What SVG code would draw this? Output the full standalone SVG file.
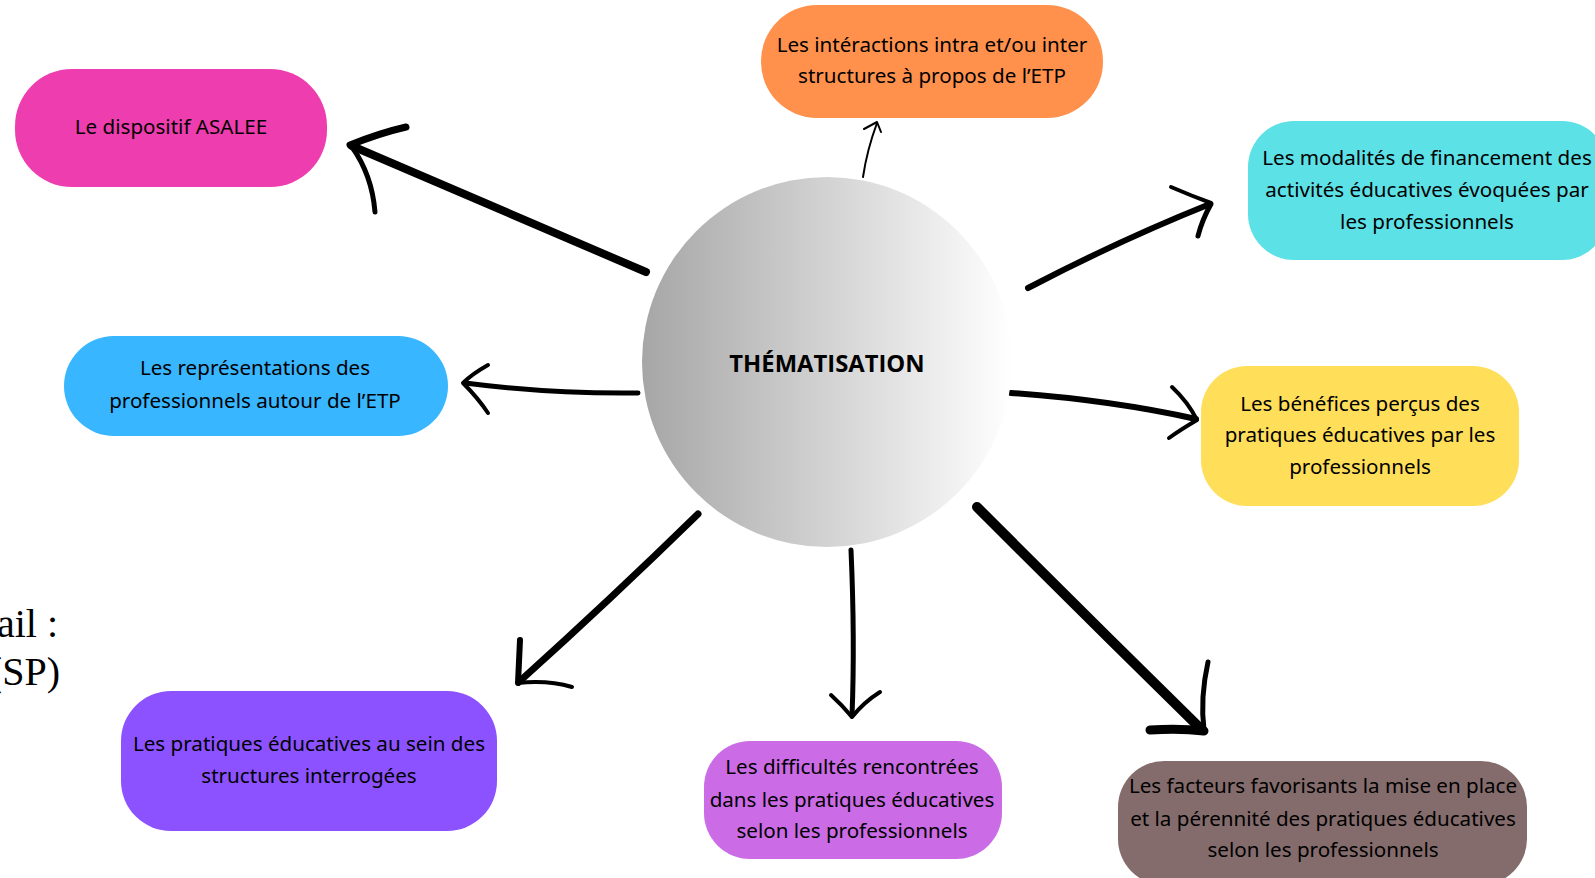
<svg xmlns="http://www.w3.org/2000/svg" width="1595" height="878" viewBox="0 0 1595 878">
<defs>
<linearGradient id="grey" x1="0" y1="0" x2="1" y2="0">
<stop offset="0" stop-color="#a6a6a6"/>
<stop offset="1" stop-color="#ffffff"/>
</linearGradient>
<style>
.lbl{font-family:"Noto Sans","Open Sans",sans-serif;font-size:20.6px;fill:#000;text-anchor:middle}
.title{font-family:"Open Sans","Noto Sans",sans-serif;font-size:23.8px;font-weight:bold;fill:#000;text-anchor:middle}
.side{font-family:"Liberation Serif",serif;font-size:40px;fill:#000;text-anchor:end}
.brush{fill:none;stroke:#000;stroke-linecap:round;stroke-linejoin:round}
</style>
</defs>
<rect width="1595" height="878" fill="#fff"/>

<text class="side" x="58" y="637">ail :</text>
<text class="side" x="60" y="685">(SP)</text>

<g id="connectors">
<g id="c-asalee">
<path class="brush" stroke-width="8" d="M646 272 Q500 210 352 146"/>
<path class="brush" stroke-width="7" d="M350 145 Q380 133 406 127"/>
<path class="brush" stroke-width="5" d="M352 147 Q372 175 375 212"/>
</g>
<g id="c-interactions">
<path class="brush" stroke-width="2" d="M863 177 Q867 150 877 123"/>
<path class="brush" stroke-width="2" d="M864 129 L877 122 L881 132"/>
</g>
<g id="c-financement">
<path class="brush" stroke-width="6" d="M1028 288 Q1120 240 1210 204"/>
<path class="brush" stroke-width="4" d="M1171 187 Q1192 196 1211 203"/>
<path class="brush" stroke-width="5" d="M1211 204 Q1202 220 1198 236"/>
</g>
<g id="c-representations">
<path class="brush" stroke-width="5" d="M638 393 Q550 394 465 383"/>
<path class="brush" stroke-width="4" d="M488 365 Q472 374 463 383 Q478 398 488 413"/>
</g>
<g id="c-benefices">
<path class="brush" stroke-width="6" d="M1011 393 Q1110 400 1196 419"/>
<path class="brush" stroke-width="4" d="M1172 387 Q1188 402 1197 420 Q1180 430 1169 438"/>
</g>
<g id="c-pratiques">
<path class="brush" stroke-width="7" d="M698 514 Q610 600 520 681"/>
<path class="brush" stroke-width="6" d="M520 640 Q519 662 518 683"/>
<path class="brush" stroke-width="4" d="M518 683 Q548 680 572 687"/>
</g>
<g id="c-difficultes">
<path class="brush" stroke-width="5" d="M851 550 Q855 640 852 716"/>
<path class="brush" stroke-width="4" d="M831 695 Q842 705 852 717 Q864 702 880 692"/>
</g>
<g id="c-facteurs">
<path class="brush" stroke-width="10" d="M977 507 Q1090 620 1202 730"/>
<path class="brush" stroke-width="5" d="M1208 662 Q1200 698 1204 730"/>
<path class="brush" stroke-width="9" d="M1150 730 Q1180 728 1204 731"/>
</g>
</g>

<g id="center">
<circle cx="827" cy="362" r="185" fill="url(#grey)"/>
<text class="title" x="827" y="372">THÉMATISATION</text>
</g>

<g id="n-asalee">
<rect x="15" y="69" width="312" height="118" rx="57" fill="#ee3dae"/>
<text class="lbl" x="171" y="134">Le dispositif ASALEE</text>
</g>

<g id="n-interactions">
<rect x="761" y="5" width="342" height="113" rx="56" fill="#ff914d"/>
<text class="lbl" x="932" y="52">Les intéractions intra et/ou inter</text>
<text class="lbl" x="932" y="83">structures à propos de l’ETP</text>
</g>

<g id="n-financement">
<rect x="1248" y="121" width="360" height="139" rx="46" fill="#5ce1e6"/>
<text class="lbl" x="1427" y="165">Les modalités de financement des</text>
<text class="lbl" x="1427" y="197">activités éducatives évoquées par</text>
<text class="lbl" x="1427" y="229">les professionnels</text>
</g>

<g id="n-representations">
<rect x="64" y="336" width="384" height="100" rx="50" fill="#38b6ff"/>
<text class="lbl" x="255" y="375">Les représentations des</text>
<text class="lbl" x="255" y="408">professionnels autour de l’ETP</text>
</g>

<g id="n-benefices">
<rect x="1201" y="366" width="318" height="140" rx="46" fill="#ffde59"/>
<text class="lbl" x="1360" y="411">Les bénéfices perçus des</text>
<text class="lbl" x="1360" y="442">pratiques éducatives par les</text>
<text class="lbl" x="1360" y="474">professionnels</text>
</g>

<g id="n-pratiques">
<rect x="121" y="691" width="376" height="140" rx="50" fill="#8c52ff"/>
<text class="lbl" x="309" y="751">Les pratiques éducatives au sein des</text>
<text class="lbl" x="309" y="783">structures interrogées</text>
</g>

<g id="n-difficultes">
<rect x="704" y="741" width="298" height="118" rx="46" fill="#cb6ce6"/>
<text class="lbl" x="852" y="774">Les difficultés rencontrées</text>
<text class="lbl" x="852" y="807">dans les pratiques éducatives</text>
<text class="lbl" x="852" y="838">selon les professionnels</text>
</g>

<g id="n-facteurs">
<rect x="1118" y="761" width="409" height="124" rx="46" fill="#846c6c"/>
<text class="lbl" x="1323" y="793">Les facteurs favorisants la mise en place</text>
<text class="lbl" x="1323" y="826">et la pérennité des pratiques éducatives</text>
<text class="lbl" x="1323" y="857">selon les professionnels</text>
</g>
</svg>
